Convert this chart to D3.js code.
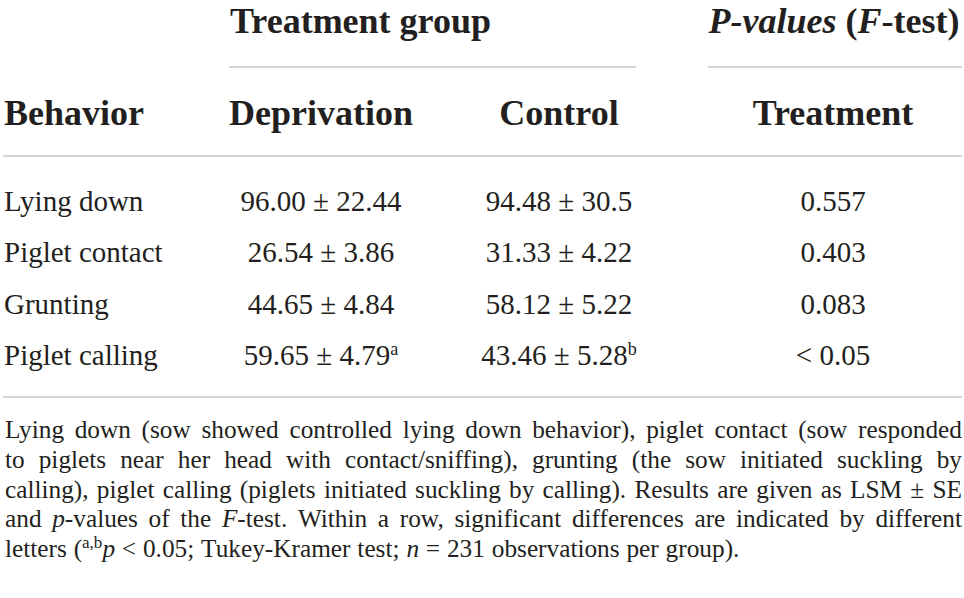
<!DOCTYPE html>
<html>
<head>
<meta charset="utf-8">
<script src="https://cdn.jsdelivr.net/npm/d3@7"></script>
<style>
  body { margin: 0; background: #fff; }
  svg { display: block; font-family: "Liberation Serif", "Times New Roman", serif; }
  text { fill: #231f20; }
</style>
</head>
<body>
<main></main>
<script>
// table values
var behaviors = ['Lying down', 'Piglet contact', 'Grunting', 'Piglet calling'];
var depMean = ['96.00', '26.54', '44.65', '59.65'];
var depSE = ['22.44', '3.86', '4.84', '4.79'];
var depLetter = ['', '', '', 'a'];
var ctrlMean = ['94.48', '31.33', '58.12', '43.46'];
var ctrlSE = ['30.5', '4.22', '5.22', '5.28'];
var ctrlLetter = ['', '', '', 'b'];
var pValues = ['0.557', '0.403', '0.083', '< 0.05'];
var columns = ['Deprivation', 'Control', 'Treatment'];

// footnote, one array per printed line; i = italic, s = superscript
var note = [
  [{t: 'Lying down (sow showed controlled lying down behavior), piglet contact (sow responded'}],
  [{t: 'to piglets near her head with contact/sniffing), grunting (the sow initiated suckling by'}],
  [{t: 'calling), piglet calling (piglets initiated suckling by calling). Results are given as LSM \u00b1 SE'}],
  [{t: 'and '}, {t: 'p', i: 1}, {t: '-values of the '}, {t: 'F', i: 1},
   {t: '-test. Within a row, significant differences are indicated by different'}],
  [{t: 'letters ('}, {t: 'a,b', s: 1}, {t: 'p', i: 1}, {t: ' < 0.05; Tukey-Kramer test; '},
   {t: 'n', i: 1}, {t: ' = 231 observations per group).'}]
];

var width = 964, height = 598;
var left = 3, right = 962;
var ruleColor = '#c6c6c6';

var svg = d3.select('main').append('svg')
  .attr('width', width)
  .attr('height', height);

var x = d3.scaleOrdinal()
  .domain(columns)
  .range([321, 559, 833]);

var y = d3.scaleBand()
  .domain(behaviors)
  .range([174, 380]);

function rule(x1, x2, yy) {
  svg.append('line')
    .attr('x1', x1).attr('x2', x2)
    .attr('y1', yy).attr('y2', yy)
    .attr('stroke', ruleColor)
    .attr('stroke-width', 1.6);
}

// spanner headers
svg.append('text')
  .attr('x', 230).attr('y', 33)
  .style('font-size', '36px').style('font-weight', 'bold')
  .text('Treatment group');

var pHead = svg.append('text')
  .attr('x', 834).attr('y', 33)
  .attr('text-anchor', 'middle')
  .style('font-size', '36px').style('font-weight', 'bold');
pHead.append('tspan').style('font-style', 'italic').text('P-values');
pHead.append('tspan').text(' (');
pHead.append('tspan').style('font-style', 'italic').text('F');
pHead.append('tspan').text('-test)');

rule(229, 636, 67);
rule(708, right, 67);

// column headers
svg.append('text')
  .attr('x', 4).attr('y', 125)
  .style('font-size', '36px').style('font-weight', 'bold')
  .text('Behavior');

svg.selectAll('.colhead')
  .data(columns)
  .enter().append('text')
  .attr('class', 'colhead')
  .attr('x', function(d) { return x(d); })
  .attr('y', 125)
  .attr('text-anchor', 'middle')
  .style('font-size', '36px').style('font-weight', 'bold')
  .text(function(d) { return d; });

rule(left, right, 156);

// body rows
var rows = svg.selectAll('.row')
  .data(behaviors)
  .enter().append('g')
  .attr('class', 'row')
  .attr('transform', function(d) { return 'translate(0,' + (y(d) + y.bandwidth() / 2 + 11) + ')'; })
  .style('font-size', '29px');

rows.append('text')
  .attr('x', 4)
  .text(function(d) { return d; });

function cell(col, means, ses, letters) {
  var t = rows.append('text')
    .attr('x', x(col))
    .attr('text-anchor', 'middle');
  t.append('tspan').text(function(d, i) { return means[i] + ' \u00b1 ' + ses[i]; });
  t.append('tspan')
    .attr('dy', -10)
    .style('font-size', '18px')
    .text(function(d, i) { return letters[i]; });
}
cell('Deprivation', depMean, depSE, depLetter);
cell('Control', ctrlMean, ctrlSE, ctrlLetter);

rows.append('text')
  .attr('x', x('Treatment'))
  .attr('text-anchor', 'middle')
  .text(function(d, i) { return pValues[i]; });

rule(left, right, 397);

// footnote, justified line by line
var noteSize = 25.3, noteTop = 438, noteLead = 29.8;
var noteG = svg.append('g').style('font-size', noteSize + 'px');

function toWords(segs) {
  var words = [[]];
  segs.forEach(function(s) {
    var parts = s.t.split(' ');
    parts.forEach(function(p, k) {
      if (k > 0) words.push([]);
      if (p.length) words[words.length - 1].push({t: p, i: s.i, s: s.s});
    });
  });
  return words.filter(function(w) { return w.length; });
}

note.forEach(function(segs, li) {
  var words = toWords(segs);
  var last = li === note.length - 1;
  var items = words.map(function(w) {
    var t = noteG.append('text').attr('y', noteTop + li * noteLead);
    w.forEach(function(s, k) {
      var ts = t.append('tspan').text(s.t);
      if (s.i) ts.style('font-style', 'italic');
      if (s.s) ts.attr('dy', -9).style('font-size', '17px');
      else if (k > 0 && w[k - 1].s) ts.attr('dy', 9);
    });
    return {node: t, w: t.node().getComputedTextLength()};
  });
  var total = d3.sum(items, function(d) { return d.w; });
  var gap = last ? noteSize * 0.27 : Math.max(3, (right - 5 - total) / (items.length - 1));
  var cx = 5;
  items.forEach(function(d) {
    d.node.attr('x', cx);
    cx += d.w + gap;
  });
});
</script>
</body>
</html>
